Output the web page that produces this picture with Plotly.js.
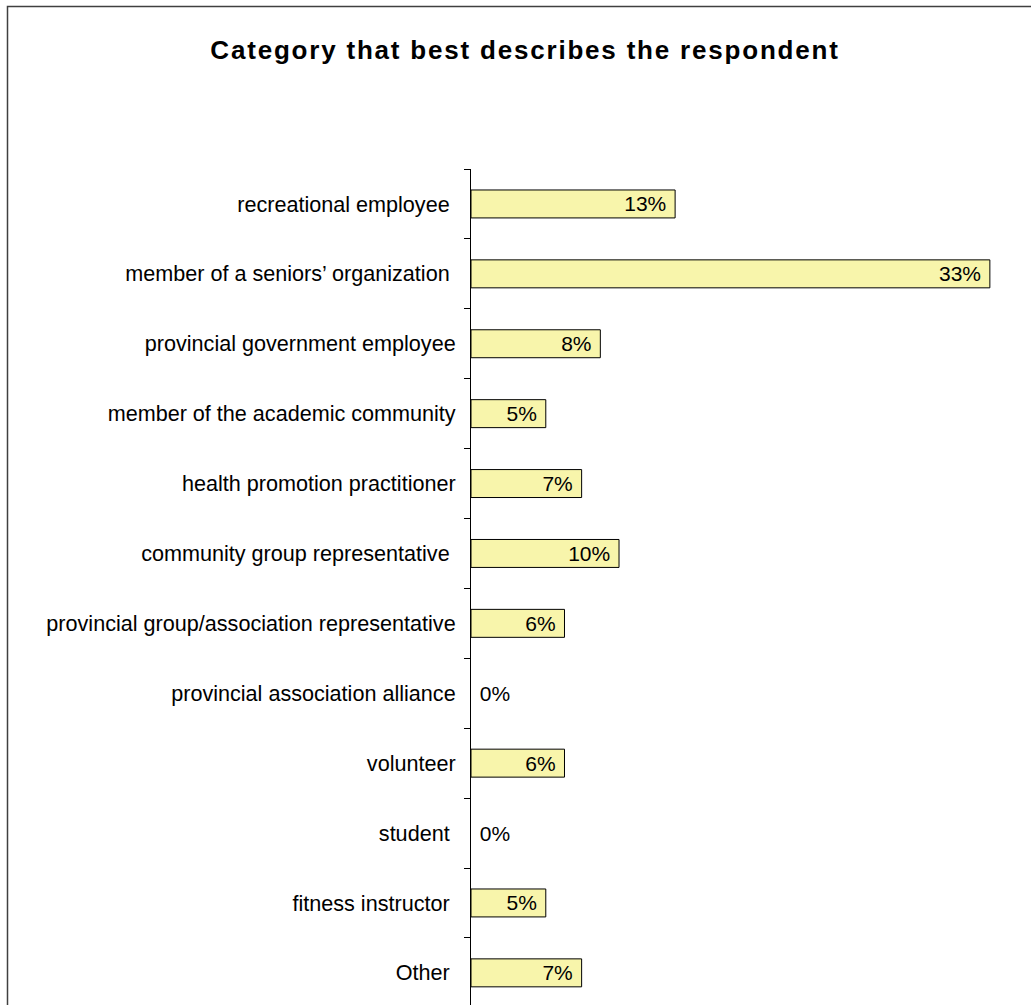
<!DOCTYPE html>
<html>
<head>
<meta charset="utf-8">
<script src="https://cdn.plot.ly/plotly-3.0.1.min.js"></script>
<style>
  html, body { margin: 0; padding: 0; background: #ffffff; }
  #chart { width: 1031px; height: 1005px; }
  .gtitle { letter-spacing: 1.8px; }
</style>
</head>
<body>
<div id="chart"></div>
<script>
// Categories (top to bottom), NBSP marks the trailing space seen in some labels
const categories = [
  "recreational employee\u00a0",
  "member of a seniors\u2019 organization\u00a0",
  "provincial government employee",
  "member of the academic community",
  "health promotion practitioner",
  "community group representative\u00a0",
  "provincial group/association representative",
  "provincial association alliance",
  "volunteer",
  "student\u00a0",
  "fitness instructor\u00a0",
  "Other\u00a0"
];
// Share of respondents (%)
const percentValues = [13.1, 33.3, 8.3, 4.8, 7.1, 9.5, 6.0, 0, 6.0, 0, 4.8, 7.1];
// Data labels as printed on the chart
const valueLabels = ["13%", "33%", "8%", "5%", "7%", "10%", "6%", "0%", "6%", "0%", "5%", "7%"];

const chartTitle = "Category that best describes the respondent";

const textPositions = percentValues.map(v => v > 0 ? "inside" : "outside");
const texts = valueLabels.map((t, i) => percentValues[i] > 0 ? t + "\u00a0" : "\u00a0" + t);
const outlineWidths = percentValues.map(v => v > 0 ? 1 : 0);

const FONT = "'Liberation Sans', Arial, sans-serif";

const trace = {
  type: "bar",
  orientation: "h",
  x: percentValues,
  y: categories,
  width: 0.4,
  marker: { color: "#F8F5AB", line: { color: "#000000", width: outlineWidths } },
  text: texts,
  textposition: textPositions,
  insidetextanchor: "end",
  textfont: { family: FONT, size: 21, color: "#000000" },
  insidetextfont: { family: FONT, size: 21, color: "#000000" },
  outsidetextfont: { family: FONT, size: 21, color: "#000000" },
  constraintext: "none",
  cliponaxis: false,
  hoverinfo: "none"
};

// pixel geometry helpers for the frame (decoration only)
const ML = 471, MT = 169, W = 1031, H = 1005;
const pw = W - ML, ph = H - MT;
const fx = px => (px - ML) / pw;
const fy = py => (H - py) / ph;

const layout = {
  width: W,
  height: H,
  margin: { l: ML, r: 0, t: MT, b: 0, pad: 0 },
  paper_bgcolor: "#ffffff",
  plot_bgcolor: "#ffffff",
  showlegend: false,
  title: {
    text: "<b>" + chartTitle + "</b>",
    font: { family: FONT, size: 26, color: "#000000" },
    x: 525 / W,
    xref: "container",
    xanchor: "center",
    y: 1 - 50 / H,
    yref: "container",
    yanchor: "middle"
  },
  xaxis: {
    range: [0, 35.94],
    visible: false,
    showgrid: false,
    zeroline: false,
    fixedrange: true
  },
  yaxis: {
    type: "category",
    range: [11.46, -0.5],
    showline: true,
    linecolor: "#000000",
    linewidth: 1,
    ticks: "outside",
    tickson: "boundaries",
    ticklen: 6,
    tickcolor: "#000000",
    tickwidth: 1,
    ticklabelstandoff: 10,
    tickfont: { family: FONT, size: 21.6, color: "#000000" },
    showgrid: false,
    zeroline: false,
    fixedrange: true
  },
  shapes: [
    {
      type: "path",
      xref: "paper",
      yref: "paper",
      path: "M " + fx(7.5) + "," + fy(H + 10) + " L " + fx(7.5) + "," + fy(6.5) + " L " + fx(W + 10) + "," + fy(6.5),
      line: { color: "#404040", width: 1.5 },
      layer: "above"
    }
  ]
};

Plotly.newPlot("chart", [trace], layout, { displayModeBar: false, staticPlot: true });
</script>
</body>
</html>
